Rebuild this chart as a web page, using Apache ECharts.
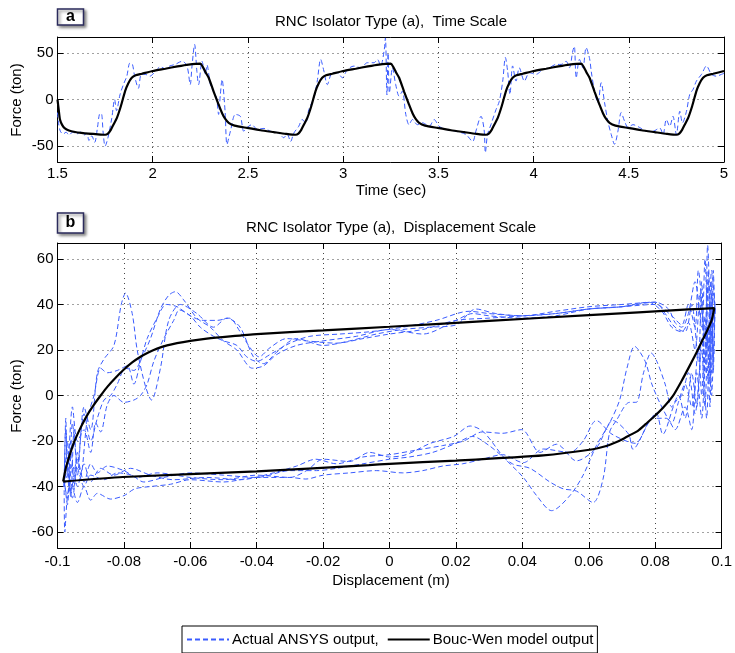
<!DOCTYPE html>
<html><head><meta charset="utf-8">
<script src="https://cdn.jsdelivr.net/npm/echarts@6/dist/echarts.min.js"></script>
<style>html,body{margin:0;padding:0;background:#fff}#c{width:735px;height:653px}</style>
</head><body><div id="c"></div>
<script>
// ---------- tick labels ----------
const timeTicks = [1.5, 2, 2.5, 3, 3.5, 4, 4.5, 5];
const forceTicksA = [-50, 0, 50];
const dispTicks = [-0.1, -0.08, -0.06, -0.04, -0.02, 0, 0.02, 0.04, 0.06, 0.08, 0.1];
const forceTicksB = [-60, -40, -20, 0, 20, 40, 60];

// ---------- panel (a): force vs time ----------
const ansysTime = [[1.5,-14],[1.506,-26],[1.515,-34],[1.53,-37],[1.545,-35],[1.56,-38],[1.58,-35],[1.6,-37],[1.62,-35],[1.64,-38],[1.655,-36],[1.665,-44],[1.68,-39],[1.695,-46],[1.71,-30],[1.72,-16],[1.73,-15],[1.74,-36],[1.75,-50],[1.765,-41],[1.785,-20],[1.8,0],[1.81,-12],[1.828,5],[1.846,16],[1.864,25],[1.88,39],[1.893,38],[1.905,25],[1.925,12],[1.94,27],[1.96,27],[1.985,25],[2.013,30],[2.04,35],[2.066,33],[2.09,36],[2.118,37.6],[2.14,40],[2.155,41],[2.18,36],[2.197,16],[2.206,35],[2.22,59],[2.232,30],[2.241,16],[2.259,41],[2.276,27],[2.285,37],[2.303,16],[2.32,8],[2.335,2],[2.346,-16],[2.355,5],[2.364,21.5],[2.38,-12.6],[2.39,-48],[2.408,-34],[2.434,-16],[2.46,-18],[2.478,-34],[2.496,-30],[2.52,-27],[2.55,-32],[2.584,-31],[2.618,-34],[2.662,-36],[2.688,-41],[2.706,-37],[2.724,-45],[2.741,-36],[2.767,-28.7],[2.785,-21.5],[2.803,-25],[2.82,-10.7],[2.846,1.8],[2.864,19.7],[2.882,43],[2.899,30.4],[2.917,16],[2.943,28.7],[2.969,28.7],[2.996,23.3],[3.022,32],[3.057,35.8],[3.092,34],[3.127,39.4],[3.162,39.4],[3.18,43],[3.197,36],[3.215,52],[3.222,66],[3.23,5],[3.236,50],[3.243,7],[3.259,34],[3.276,16],[3.294,3.6],[3.311,9],[3.329,-16],[3.346,-27],[3.364,-21.5],[3.39,-27],[3.417,-25],[3.452,-28.7],[3.478,-21.5],[3.504,-28.7],[3.539,-32],[3.592,-34],[3.645,-37.6],[3.68,-45],[3.697,-34],[3.724,-18],[3.74,-32],[3.747,-57],[3.758,-37.6],[3.776,-27],[3.803,-10.7],[3.82,-2],[3.838,19.7],[3.852,45],[3.864,30],[3.876,5.4],[3.89,36],[3.908,19.7],[3.925,34],[3.952,19.7],[3.978,28.7],[4.013,27],[4.048,32],[4.083,34],[4.118,37.6],[4.145,37.6],[4.171,41],[4.188,34],[4.206,52],[4.214,57],[4.224,23],[4.241,43],[4.259,34],[4.276,55.6],[4.294,44],[4.303,30],[4.32,9],[4.338,-3.6],[4.355,18],[4.373,-3.6],[4.39,-23.3],[4.408,-37.6],[4.425,-48],[4.443,-34],[4.46,-14],[4.478,-23.3],[4.496,-30],[4.522,-27],[4.557,-30],[4.592,-34],[4.627,-34],[4.662,-30.5],[4.68,-37.6],[4.697,-21.5],[4.715,-28.7],[4.732,-18],[4.75,-37.6],[4.768,-12.6],[4.782,-25],[4.803,-12.6],[4.82,5.4],[4.838,11],[4.855,19.7],[4.882,27],[4.908,36],[4.934,27],[4.96,25],[4.987,27],[5.0,28]];

const boucTime = [[1.5,0],[1.507,-12],[1.513,-21.5],[1.525,-27.5],[1.539,-31],[1.56,-33.2],[1.592,-34.8],[1.625,-35.8],[1.662,-36.6],[1.7,-37.1],[1.75,-37.8],
[1.765,-36.5],[1.78,-32.5],[1.795,-26.5],[1.812,-19.7],[1.833,-7],[1.855,9],[1.872,17.5],[1.89,23.3],[1.91,26],[1.943,27.6],[2.0,30.5],[2.066,33],[2.13,35.5],[2.188,37.4],[2.25,38.4],[2.263,35],[2.278,29],[2.294,23.3],[2.32,8.5],[2.346,-5.4],[2.365,-15],[2.38,-20.5],[2.399,-25],[2.43,-28],[2.496,-30.5],[2.566,-33],[2.636,-35],[2.7,-36.8],[2.75,-37.8],
[2.765,-36.5],[2.78,-32.5],[2.795,-26.5],[2.812,-19.7],[2.833,-7],[2.855,9],[2.872,17.5],[2.89,23.3],[2.91,26],[2.943,27.6],[3.0,30.5],[3.066,33],[3.13,35.5],[3.188,37.4],[3.25,38.4],[3.263,35],[3.278,29],[3.294,23.3],[3.32,8.5],[3.346,-5.4],[3.365,-15],[3.38,-20.5],[3.399,-25],[3.43,-28],[3.496,-30.5],[3.566,-33],[3.636,-35],[3.7,-36.8],[3.75,-37.8],
[3.765,-36.5],[3.78,-32.5],[3.795,-26.5],[3.812,-19.7],[3.833,-7],[3.855,9],[3.872,17.5],[3.89,23.3],[3.91,26],[3.943,27.6],[4.0,30.5],[4.066,33],[4.13,35.5],[4.188,37.4],[4.25,38.4],[4.263,35],[4.278,29],[4.294,23.3],[4.32,8.5],[4.346,-5.4],[4.365,-15],[4.38,-20.5],[4.399,-25],[4.43,-28],[4.496,-30.5],[4.566,-33],[4.636,-35],[4.7,-36.8],[4.75,-37.8],
[4.765,-36.5],[4.78,-32.5],[4.795,-26.5],[4.812,-19.7],[4.833,-7],[4.855,9],[4.872,17.5],[4.89,23.3],[4.91,26],[4.943,27.6],[5.0,30.5]];

// ---------- panel (b): force vs displacement ----------
const ansysUp1 = [[-0.098,-40],[-0.097,-20],[-0.096,-45],[-0.095,-15],[-0.094,-35],[-0.092,-5],[-0.09,-15],[-0.088,10],[-0.086,16],[-0.083,22],[-0.0808,40],[-0.0795,45],[-0.0775,36],[-0.076,20],[-0.0735,4],[-0.0717,-2],[-0.069,12],[-0.0665,33],[-0.063,40],[-0.058,36],[-0.053,30],[-0.049,34],[-0.045,30],[-0.041,17],[-0.038,14],[-0.034,19],[-0.028,25],[-0.02,22],[-0.012,24],[-0.004,27],[0.004,29],[0.012,30],[0.02,31],[0.026,38],[0.032,36],[0.04,35],[0.05,37],[0.06,39],[0.07,40],[0.08,41],[0.084,38],[0.086,32],[0.088,30],[0.09,36],[0.092,50],[0.094,30],[0.095,60],[0.096,20],[0.097,55],[0.098,40]];
const ansysUp2 = [[-0.098,-38],[-0.0975,-15],[-0.0965,-42],[-0.0955,-12],[-0.094,-30],[-0.092,-8],[-0.09,-20],[-0.088,-10],[-0.086,-2],[-0.084,0],[-0.082,5],[-0.0795,12],[-0.077,11],[-0.0745,17],[-0.072,25],[-0.069,38],[-0.0665,44],[-0.0645,45.6],[-0.062,42],[-0.058,34],[-0.054,30],[-0.05,24],[-0.046,20],[-0.0413,12],[-0.038,13],[-0.034,18],[-0.028,22],[-0.02,24],[-0.01,26],[0.0,29],[0.01,27],[0.02,33],[0.025,36],[0.03,35],[0.04,34],[0.05,35],[0.06,38],[0.07,39],[0.08,40],[0.085,35],[0.088,31],[0.09,40],[0.092,30],[0.093,55],[0.095,25],[0.0958,66],[0.097,30],[0.098,40]];
const ansysUp3 = [[-0.098,-36],[-0.097,-48],[-0.096,-20],[-0.095,-40],[-0.094,-25],[-0.093,-35],[-0.091,-10],[-0.089,0],[-0.087,12],[-0.085,10],[-0.082,11],[-0.079,13],[-0.077,5],[-0.075,15],[-0.073,25],[-0.07,34],[-0.0672,40],[-0.064,39],[-0.06,35],[-0.056,33],[-0.052,33],[-0.0483,34],[-0.045,28],[-0.042,21],[-0.0393,17],[-0.036,21],[-0.031,25],[-0.025,24],[-0.016,23],[-0.008,25],[0.0,27],[0.01,29],[0.02,33],[0.03,34],[0.04,35],[0.05,36],[0.06,38],[0.07,39],[0.08,41],[0.083,36],[0.086,30],[0.089,28],[0.091,40],[0.093,15],[0.094,50],[0.095,10],[0.096,55],[0.0965,5],[0.0975,45],[0.098,38]];
const ansysUp4 = [[-0.098,-40],[-0.0975,-10],[-0.097,-35],[-0.0955,-5],[-0.094,-20],[-0.092,-15],[-0.09,-25],[-0.0885,-12],[-0.087,-16],[-0.085,-4],[-0.083,0],[-0.08,-3],[-0.077,-2],[-0.075,0],[-0.073,5],[-0.071,15],[-0.068,25],[-0.065,33],[-0.0633,37.6],[-0.06,35],[-0.057,30],[-0.053,26],[-0.05,24],[-0.046,22],[-0.043,17],[-0.04,15],[-0.036,18],[-0.03,23],[-0.024,26],[-0.015,27],[-0.006,28],[0.004,30],[0.014,33],[0.024,37],[0.03,36],[0.04,35],[0.05,36],[0.06,38],[0.07,39],[0.078,41],[0.082,37],[0.085,30],[0.088,28],[0.09,32],[0.092,20],[0.0935,45],[0.095,15],[0.096,50],[0.097,25],[0.098,38]];
const ansysLow1 = [[0.098,38],[0.0975,10],[0.097,45],[0.096,5],[0.095,35],[0.094,0],[0.093,20],[0.091,-5],[0.089,5],[0.087,-3],[0.085,-12],[0.082,-5],[0.079,5],[0.077,15],[0.0738,21.6],[0.0715,12],[0.0693,-2],[0.0663,-12],[0.0623,-22],[0.0583,-35],[0.0543,-44],[0.0488,-50.6],[0.0443,-44],[0.0403,-36],[0.0343,-27],[0.0283,-16],[0.0243,-13.4],[0.0193,-18],[0.0123,-21],[0.005,-26],[0.0,-27],[-0.006,-25],[-0.012,-29],[-0.02,-28],[-0.025,-33],[-0.03,-36],[-0.04,-35],[-0.05,-37],[-0.06,-36],[-0.07,-34],[-0.076,-36],[-0.08,-33],[-0.085,-31],[-0.088,-34],[-0.09,-30],[-0.092,-38],[-0.094,-28],[-0.096,-42],[-0.097,-32],[-0.098,-38]];
const ansysLow2 = [[0.098,40],[0.097,0],[0.0965,40],[0.0955,-10],[0.094,25],[0.0925,-5],[0.091,10],[0.089,-10],[0.087,0],[0.085,-5],[0.083,5],[0.0805,15],[0.0788,18.7],[0.0765,10],[0.0743,-3],[0.0723,-3],[0.0683,-11],[0.0663,-16],[0.0643,-36.7],[0.0613,-47],[0.0563,-42],[0.0523,-41],[0.0483,-38],[0.0423,-32],[0.037,-30],[0.03,-22],[0.025,-18],[0.02,-21],[0.013,-25],[0.006,-27],[0.0,-28],[-0.008,-30],[-0.016,-32],[-0.022,-33],[-0.03,-33],[-0.04,-36],[-0.05,-35],[-0.06,-34],[-0.068,-36],[-0.074,-38],[-0.0777,-35],[-0.082,-34],[-0.086,-37],[-0.09,-35],[-0.092,-40],[-0.094,-32],[-0.0955,-45],[-0.097,-35],[-0.098,-40]];
const ansysLow3 = [[0.098,36],[0.0975,55],[0.097,10],[0.096,30],[0.095,-5],[0.094,20],[0.092,-8],[0.09,10],[0.088,0],[0.086,-3],[0.0823,-17],[0.0803,-7.6],[0.078,-12],[0.0733,-23.6],[0.072,-17],[0.0673,-11],[0.0623,-23],[0.0563,-28.7],[0.0503,-21.4],[0.0453,-25],[0.0398,-15],[0.034,-16.6],[0.028,-16],[0.0223,-20],[0.016,-22],[0.008,-24],[0.0,-26],[-0.008,-27],[-0.016,-30],[-0.0222,-28],[-0.028,-31],[-0.035,-34],[-0.045,-37],[-0.055,-36],[-0.065,-37],[-0.072,-35],[-0.078,-32],[-0.083,-35],[-0.087,-32],[-0.09,-38],[-0.092,-30],[-0.094,-40],[-0.0955,-30],[-0.097,-45],[-0.098,-38]];
const ansysLow4 = [[0.098,38],[0.0975,15],[0.097,50],[0.0965,-5],[0.0955,30],[0.094,-10],[0.0925,10],[0.091,-15],[0.089,-5],[0.086,-15],[0.0833,-10],[0.0793,-10],[0.074,-21],[0.067,-17],[0.0623,-11],[0.0583,-20],[0.0543,-25],[0.0463,-23.5],[0.0403,-29.5],[0.034,-26],[0.028,-28],[0.022,-30],[0.016,-31],[0.01,-33],[0.004,-34],[-0.004,-33],[-0.012,-34],[-0.02,-35],[-0.0252,-36.7],[-0.03,-36],[-0.04,-36],[-0.05,-38],[-0.06,-37],[-0.066,-39],[-0.072,-40],[-0.0767,-41],[-0.08,-44],[-0.084,-45.5],[-0.088,-43],[-0.09,-46],[-0.092,-40],[-0.094,-47],[-0.096,-38],[-0.097,-44],[-0.0978,-60],[-0.098,-38]];

const boucUpper = [[-0.0983,-37.8],[-0.0975,-32],[-0.0965,-27],[-0.095,-20.5],[-0.093,-14],[-0.091,-8.5],[-0.089,-4],[-0.087,0],[-0.085,3.8],[-0.0825,7.8],[-0.08,11.4],[-0.0775,14.5],[-0.075,17],[-0.0725,19],[-0.07,20.6],[-0.067,22],[-0.064,23],[-0.06,24],[-0.055,25],[-0.048,26],[-0.04,27],[-0.02,28.6],[0.0,30.2],[0.03,32.8],[0.06,35.3],[0.09,37.8],[0.0978,38.4]];
const boucLower = [[0.0978,38.4],[0.097,33],[0.0955,28],[0.0943,24.5],[0.0925,19],[0.0903,12.8],[0.088,6.5],[0.0853,-0.3],[0.0823,-5.5],[0.0793,-9.8],[0.0772,-12.5],[0.0748,-15.5],[0.0723,-17.5],[0.07,-19.3],[0.0682,-20.5],[0.065,-22.3],[0.0613,-23.6],[0.0463,-26.3],[0.02,-28.6],[0.0,-30.0],[-0.0062,-30.6],[-0.04,-33.3],[-0.0803,-35.8],[-0.0983,-37.8]];

const ansysLoops = [ansysUp1, ansysLow1, ansysUp2, ansysLow2, ansysUp3, ansysLow3, ansysUp4, ansysLow4];

// ---------- chart ----------
const FONT = '"Liberation Sans", Arial, Helvetica, sans-serif';
const BLUE = '#3a5cff';
const NAME_A = 'Actual ANSYS output,';
const NAME_B = 'Bouc-Wen model output';

function xAx(grid, pos, min, max, ticks, showLabel, margin) {
  return {
    gridIndex: grid, type: 'value', position: pos, min: min, max: max,
    axisLine: { show: true, onZero: false, lineStyle: { color: '#000', width: 1 } },
    axisTick: { show: true, inside: true, length: 6, customValues: ticks, lineStyle: { color: '#000' } },
    axisLabel: { show: showLabel, customValues: ticks, color: '#000', fontSize: 15, fontFamily: FONT, margin: margin, showMinLabel: true, showMaxLabel: true },
    splitLine: { show: showLabel, lineStyle: { type: [1, 4], color: '#444', width: 1 } }
  };
}
function yAx(grid, pos, min, max, ticks, showLabel) {
  return {
    gridIndex: grid, type: 'value', position: pos, min: min, max: max,
    axisLine: { show: true, onZero: false, lineStyle: { color: '#000', width: 1 } },
    axisTick: { show: true, inside: true, length: 6, customValues: ticks, lineStyle: { color: '#000' } },
    axisLabel: { show: showLabel, customValues: ticks, color: '#000', fontSize: 15, fontFamily: FONT, margin: 4, showMinLabel: true, showMaxLabel: true },
    splitLine: { show: showLabel, lineStyle: { type: [1, 4], color: '#444', width: 1 } }
  };
}

const series = [];
series.push({ name: NAME_A, type: 'line', xAxisIndex: 0, yAxisIndex: 0, data: ansysTime, showSymbol: false, symbol: 'none', smooth: 0.3,
  lineStyle: { color: BLUE, width: 1, type: [5, 3] }, itemStyle: { color: BLUE }, z: 2 });
series.push({ name: NAME_B, type: 'line', xAxisIndex: 0, yAxisIndex: 0, data: boucTime, showSymbol: false, symbol: 'none', smooth: 0.2,
  lineStyle: { color: '#000', width: 2.2 }, itemStyle: { color: '#000' }, z: 3 });
ansysLoops.forEach(function (loop) {
  series.push({ name: NAME_A, type: 'line', xAxisIndex: 2, yAxisIndex: 2, data: loop, showSymbol: false, symbol: 'none', smooth: 0.3,
    lineStyle: { color: BLUE, width: 1, type: [5, 3] }, itemStyle: { color: BLUE }, z: 2 });
});
series.push({ name: NAME_B, type: 'line', xAxisIndex: 2, yAxisIndex: 2, data: boucUpper.concat(boucLower.slice(1)), showSymbol: false, symbol: 'none', smooth: 0.2,
  lineStyle: { color: '#000', width: 2.2 }, itemStyle: { color: '#000' }, z: 3 });

function panelLabel(letter, x, y, w, h) {
  return {
    type: 'group', children: [
      { type: 'rect', shape: { x: x, y: y, width: w, height: h },
        style: { fill: '#fff', stroke: '#2b2b5c', lineWidth: 1.5, shadowColor: 'rgba(0,0,0,0.45)', shadowBlur: 3, shadowOffsetX: 2, shadowOffsetY: 2 } },
      { type: 'text', style: { text: letter, x: x + w / 2, y: y + h / 2, textAlign: 'center', textVerticalAlign: 'middle', align: 'center', verticalAlign: 'middle',
        font: 'bold 16px ' + FONT, fill: '#000' } }
    ]
  };
}
function txt(t, x, y, size, rot) {
  return { type: 'text', rotation: rot || 0, x: x, y: y,
    style: { text: t, x: 0, y: 0, textAlign: 'center', textVerticalAlign: 'middle', align: 'center', verticalAlign: 'middle', font: size + 'px ' + FONT, fill: '#000' } };
}

const chart = echarts.init(document.getElementById('c'), null, { renderer: 'canvas' });
chart.setOption({
  animation: false,
  backgroundColor: '#fff',
  grid: [
    { left: 57.5, top: 37, width: 666.5, height: 125 },
    { left: 57.5, top: 243, width: 666.5, height: 305 }
  ],
  xAxis: [
    xAx(0, 'bottom', 1.5, 5, timeTicks, true, 4),
    xAx(0, 'top', 1.5, 5, timeTicks, false, 4),
    xAx(1, 'bottom', -0.1, 0.1, dispTicks, true, 6),
    xAx(1, 'top', -0.1, 0.1, dispTicks, false, 6)
  ],
  yAxis: [
    yAx(0, 'left', -67, 67, forceTicksA, true),
    yAx(0, 'right', -67, 67, forceTicksA, false),
    yAx(1, 'left', -67, 67, forceTicksB, true),
    yAx(1, 'right', -67, 67, forceTicksB, false)
  ],
  legend: {
    data: [NAME_A, NAME_B], left: 182, top: 626, orient: 'horizontal',
    borderColor: '#000', borderWidth: 1, borderRadius: 0, padding: [6, 4, 6, 4],
    itemWidth: 42, itemHeight: 12, itemGap: 8, selectedMode: false,
    itemStyle: { opacity: 0, color: 'transparent', borderWidth: 0 },
    textStyle: { fontSize: 15, color: '#000', fontFamily: FONT, padding: [0, 0, 0, -2] }
  },
  graphic: [
    panelLabel('a', 57.5, 9, 26, 16),
    panelLabel('b', 57.5, 213, 26, 20),
    txt('RNC Isolator Type (a),  Time Scale', 391, 22, 15),
    txt('RNC Isolator Type (a),  Displacement Scale', 391, 228, 15),
    txt('Time (sec)', 391, 191, 15),
    txt('Displacement (m)', 391, 581, 15),
    txt('Force (ton)', 17, 100, 15, Math.PI / 2),
    txt('Force (ton)', 17, 396, 15, Math.PI / 2)
  ],
  series: series
});
</script>
</body></html>
